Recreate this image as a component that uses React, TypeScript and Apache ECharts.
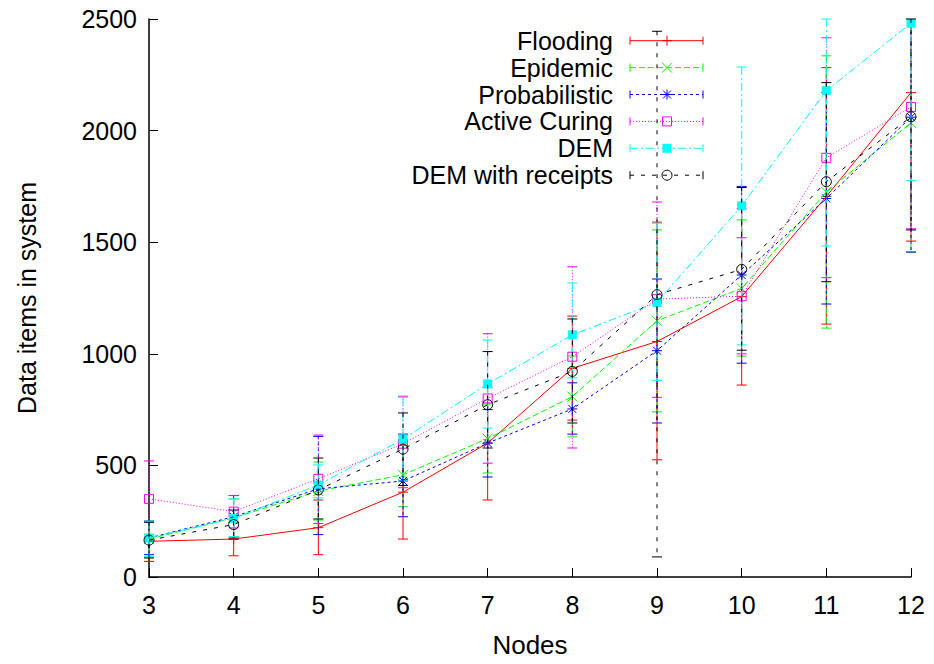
import React, { useEffect, useRef } from "react";
import * as echarts from "echarts";

const nodes = [3, 4, 5, 6, 7, 8, 9, 10, 11, 12];
const seriesNames = ["Flooding", "Epidemic", "Probabilistic", "Active Curing", "DEM", "DEM with receipts"];

const flooding = [160, 170, 221, 380, 600, 935, 1055, 1256, 1705, 2170];
const floodingLow = [70, 95, 100, 170, 345, 703, 525, 860, 1133, 1505];
const floodingHigh = [250, 250, 345, 590, 850, 1169, 1590, 1650, 2282, 2835];

const epidemic = [170, 265, 385, 458, 620, 808, 1148, 1293, 1725, 2035];
const epidemicLow = [90, 180, 255, 315, 466, 628, 740, 990, 1115, 1455];
const epidemicHigh = [250, 350, 515, 600, 775, 990, 1555, 1600, 2335, 2620];

const probabilistic = [175, 270, 395, 430, 600, 753, 1014, 1353, 1696, 2060];
const probabilisticLow = [100, 175, 190, 270, 448, 640, 690, 958, 1223, 1456];
const probabilisticHigh = [250, 365, 630, 640, 750, 870, 1335, 1750, 2170, 2665];

const activeCuring = [350, 293, 440, 597, 800, 987, 1245, 1258, 1878, 2106];
const activeCuringLow = [180, 220, 240, 400, 510, 578, 805, 1000, 1341, 1560];
const activeCuringHigh = [520, 365, 636, 810, 1090, 1390, 1680, 1520, 2416, 2650];

const dem = [175, 263, 412, 618, 865, 1085, 1230, 1663, 2179, 2481];
const demLow = [90, 180, 355, 430, 667, 892, 880, 1040, 1483, 1776];
const demHigh = [250, 350, 502, 805, 1062, 1317, 1585, 2285, 2500, 3185];

const demReceipts = [165, 235, 390, 573, 772, 921, 1265, 1378, 1771, 2062];
const demReceiptsLow = [85, 170, 260, 410, 578, 690, 90, 1016, 1323, 1555];
const demReceiptsHigh = [245, 300, 533, 735, 1010, 1156, 2445, 1745, 2215, 2500];

const yMin = 0;
const yMax = 2500;
const yInterval = 500;
const xMin = 3;
const xMax = 12;

const values = [flooding, epidemic, probabilistic, activeCuring, dem, demReceipts];
const lows = [floodingLow, epidemicLow, probabilisticLow, activeCuringLow, demLow, demReceiptsLow];
const highs = [floodingHigh, epidemicHigh, probabilisticHigh, activeCuringHigh, demHigh, demReceiptsHigh];

const colors = ["#ff0000", "#00ff00", "#0000ff", "#ff00ff", "#00ffff", "#000000"];
const dashes: (number[] | null)[] = [null, [6, 3], [3, 3], [1, 2], [8, 3, 2, 3], [4, 7]];
const markers = ["plus", "cross", "star", "square", "fsquare", "circle"];

const FONT = "Liberation Sans, Arial, Helvetica, sans-serif";

function markerEls(kind: string, cx: number, cy: number, color: string): any[] {
  const s = { stroke: color, lineWidth: 1, fill: null as any };
  const r = 5;
  const ln = (x1: number, y1: number, x2: number, y2: number) => ({
    type: "line",
    shape: { x1, y1, x2, y2 },
    style: s,
  });
  switch (kind) {
    case "plus":
      return [ln(cx - r, cy, cx + r, cy), ln(cx, cy - r, cx, cy + r)];
    case "cross":
      return [ln(cx - r, cy - r, cx + r, cy + r), ln(cx - r, cy + r, cx + r, cy - r)];
    case "star":
      return [
        ln(cx - r, cy, cx + r, cy),
        ln(cx, cy - r, cx, cy + r),
        ln(cx - 4, cy - 4, cx + 4, cy + 4),
        ln(cx - 4, cy + 4, cx + 4, cy - 4),
      ];
    case "square":
      return [{ type: "rect", shape: { x: cx - 4.5, y: cy - 4.5, width: 9, height: 9 }, style: { stroke: color, lineWidth: 1, fill: null } }];
    case "fsquare":
      return [{ type: "rect", shape: { x: cx - 4.5, y: cy - 4.5, width: 9, height: 9 }, style: { fill: color } }];
    default:
      return [{ type: "circle", shape: { cx, cy, r: 5 }, style: { stroke: color, lineWidth: 1, fill: null } }];
  }
}

export default function App() {
  const ref = useRef<HTMLDivElement>(null);

  useEffect(() => {
    document.body.style.margin = "0";
    if (!ref.current) return;
    const chart = echarts.init(ref.current, undefined, { renderer: "svg" });

    const series: any[] = [];
    seriesNames.forEach((name, i) => {
      const color = colors[i];
      const dash = dashes[i];
      series.push({
        name,
        type: "line",
        data: nodes.map((x, j) => [x, values[i][j]]),
        showSymbol: false,
        symbol: "none",
        silent: true,
        lineStyle: { color, width: 1, type: dash ? dash : "solid" },
        z: 2,
      });
      series.push({
        name: name + " errors",
        type: "custom",
        silent: true,
        z: 2,
        data: nodes.map((x, j) => [x, values[i][j], lows[i][j], highs[i][j]]),
        encode: { x: 0, y: 1 },
        renderItem: (_p: any, api: any) => {
          const x = api.value(0);
          const y = api.value(1);
          const lo = api.value(2);
          const hi = api.value(3);
          const p = api.coord([x, y]);
          const pl = api.coord([x, Math.max(lo, yMin)]);
          const ph = api.coord([x, Math.min(hi, yMax)]);
          const st: any = { stroke: color, lineWidth: 1, fill: null };
          const dst: any = { stroke: color, lineWidth: 1, fill: null, lineDash: dash || undefined };
          const children: any[] = [
            { type: "line", shape: { x1: p[0], y1: ph[1], x2: p[0], y2: pl[1] }, style: dst },
          ];
          if (lo >= yMin) children.push({ type: "line", shape: { x1: p[0] - 5, y1: pl[1], x2: p[0] + 5, y2: pl[1] }, style: st });
          if (hi <= yMax) children.push({ type: "line", shape: { x1: p[0] - 5, y1: ph[1], x2: p[0] + 5, y2: ph[1] }, style: st });
          markerEls(markers[i], p[0], p[1], color).forEach((m) => children.push(m));
          return { type: "group", children };
        },
      });
    });

    // legend (gnuplot style: text right, sample with error caps)
    const graphic: any[] = [];
    const legendTop = 40.7;
    const legendStep = 26.9;
    const textRight = 613;
    const sx1 = 630;
    const sx2 = 703;
    const smid = 667;
    seriesNames.forEach((name, i) => {
      const y = legendTop + i * legendStep;
      const color = colors[i];
      const dash = dashes[i];
      graphic.push({
        type: "text",
        x: textRight,
        y,
        silent: true,
        style: {
          text: name,
          font: `25px ${FONT}`,
          lineHeight: 24,
          fill: "#000",
          textAlign: "right",
          textVerticalAlign: "middle",
          align: "right",
          verticalAlign: "middle",
        },
      });
      graphic.push({
        type: "line",
        silent: true,
        shape: { x1: sx1, y1: y, x2: sx2, y2: y },
        style: { stroke: color, lineWidth: 1, lineDash: dash || undefined },
      });
      graphic.push({ type: "line", silent: true, shape: { x1: sx1, y1: y - 4, x2: sx1, y2: y + 4 }, style: { stroke: color, lineWidth: 1 } });
      graphic.push({ type: "line", silent: true, shape: { x1: sx2, y1: y - 4, x2: sx2, y2: y + 4 }, style: { stroke: color, lineWidth: 1 } });
      markerEls(markers[i], smid, y, color).forEach((m) => graphic.push({ ...m, silent: true }));
    });

    graphic.push({
      type: "text",
      x: 530,
      y: 645,
      silent: true,
      style: { text: "Nodes", font: `26px ${FONT}`, fill: "#000", textAlign: "center", textVerticalAlign: "middle", align: "center", verticalAlign: "middle" },
    });
    graphic.push({
      type: "text",
      x: 27,
      y: 298,
      rotation: Math.PI / 2,
      silent: true,
      style: { text: "Data items in system", font: `25px ${FONT}`, fill: "#000", textAlign: "center", textVerticalAlign: "middle", align: "center", verticalAlign: "middle" },
    });

    chart.setOption({
      animation: false,
      backgroundColor: "#ffffff",
      grid: { left: 149, right: 23, top: 19, bottom: 87, containLabel: false, outerBoundsMode: "none" },
      xAxis: {
        type: "value",
        min: xMin,
        max: xMax,
        interval: 1,
        axisLine: { show: true, onZero: false, lineStyle: { color: "#000", width: 1.5 } },
        axisTick: { show: true, inside: true, length: 9, lineStyle: { color: "#000", width: 1 } },
        axisLabel: { color: "#000", fontSize: 25, fontFamily: FONT, margin: 15, formatter: (v: number) => String(v) },
        splitLine: { show: false },
      },
      yAxis: {
        type: "value",
        min: yMin,
        max: yMax,
        interval: yInterval,
        axisLine: { show: true, onZero: false, lineStyle: { color: "#000", width: 1.5 } },
        axisTick: { show: true, inside: true, length: 9, lineStyle: { color: "#000", width: 1 } },
        axisLabel: { color: "#000", fontSize: 25, fontFamily: FONT, margin: 12, formatter: (v: number) => String(v) },
        splitLine: { show: false },
      },
      graphic,
      series,
    });

    return () => chart.dispose();
  }, []);

  return <div ref={ref} style={{ position: "fixed", left: 0, top: 0, width: 934, height: 664 }} />;
}
